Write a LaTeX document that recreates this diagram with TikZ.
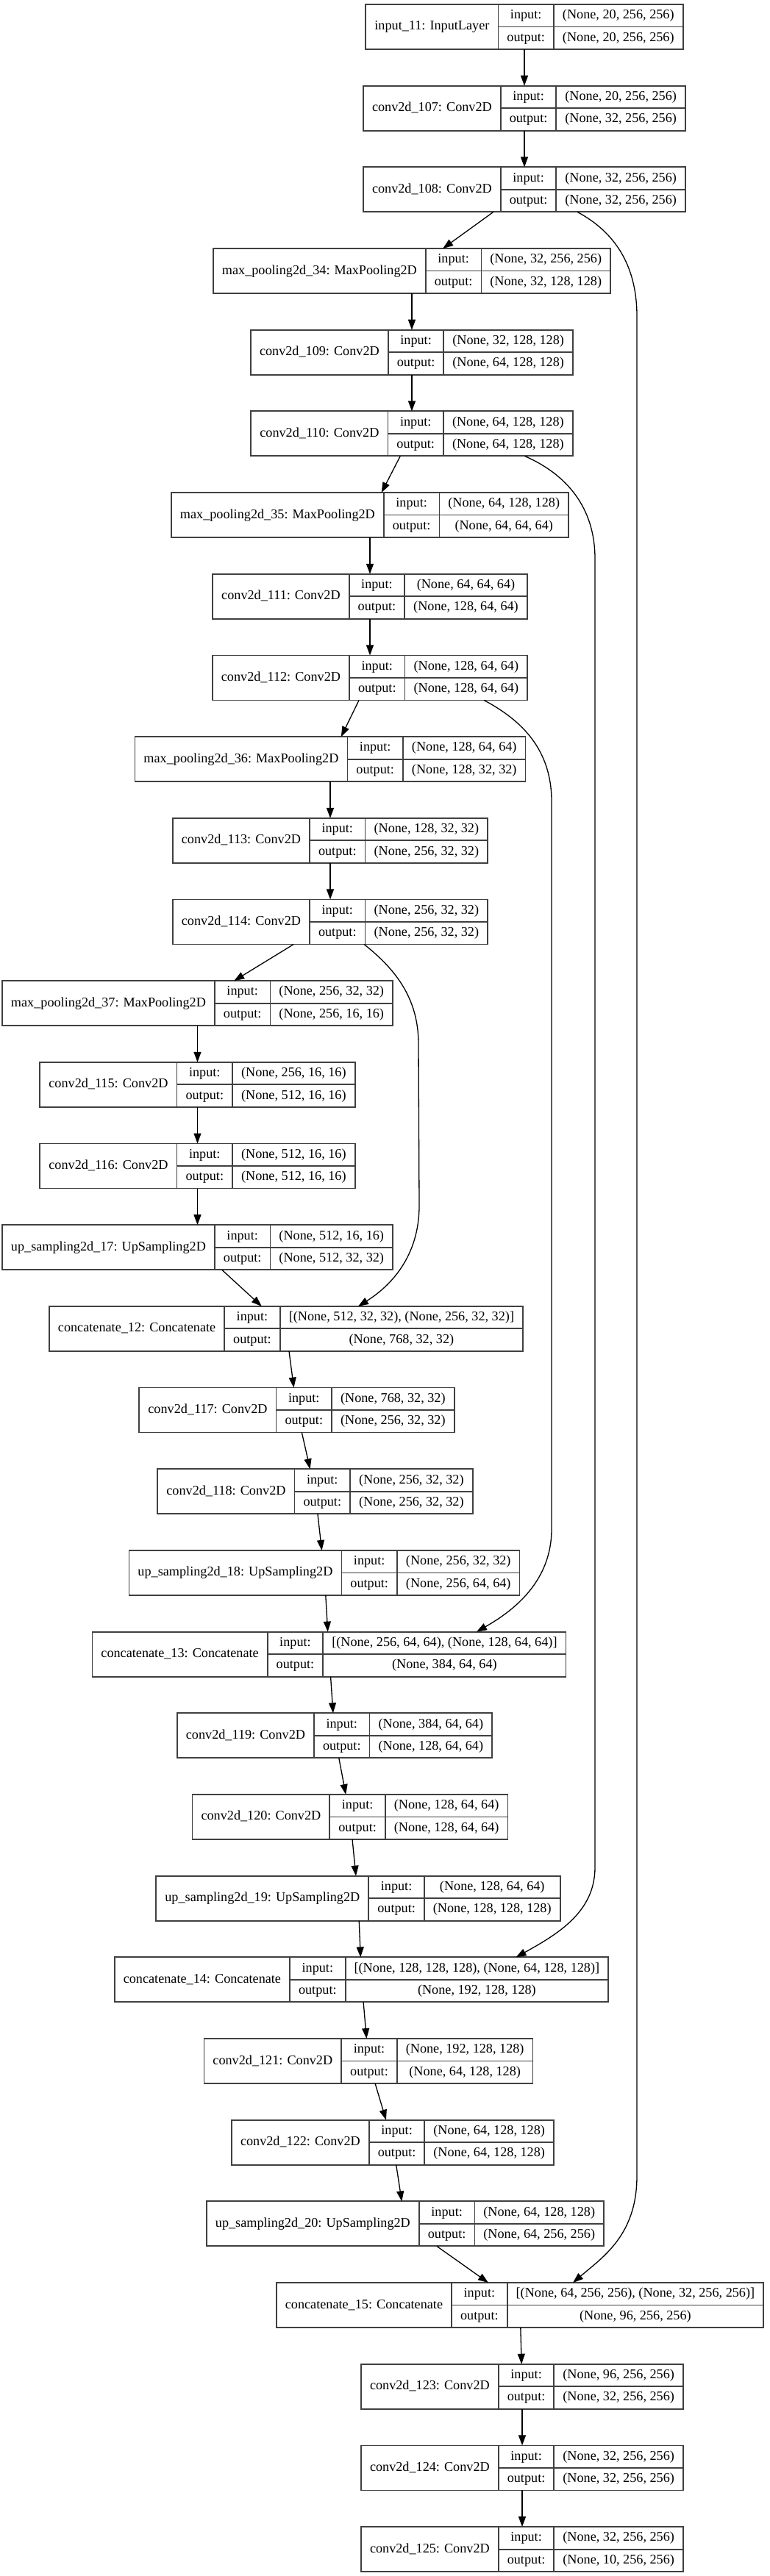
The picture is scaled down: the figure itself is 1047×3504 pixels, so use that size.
\documentclass[tikz,border=0pt]{standalone}
\usepackage{fontspec}
\setmainfont{Liberation Serif}
\usetikzlibrary{arrows.meta,calc}
\newcommand\lyr{\fontsize{9.1pt}{10pt}\selectfont}
\newlength\lenA \newlength\lenB \newlength\lenC \newlength\lenD
\newcommand\lyrmeasure[2]{\pgfinterruptpicture\settowidth{#1}{\lyr #2}\global#1=#1\relax\endpgfinterruptpicture}
\tikzset{
 layerbox/.style={draw=black!75, line width=0.9pt, fill=white, minimum height=30.5pt, inner sep=0pt, outer sep=0pt},
 divider/.style={draw=black!75, line width=0.9pt},
 cell/.style={font=\lyr, inner sep=0pt, text height=6.6pt, text depth=2.1pt},
 edge/.style={draw=black, line width=0.65pt, -{Triangle[length=7pt,width=5pt]}},
}
\newcommand\layer[6]{%
 \lyrmeasure\lenA{#4}\addtolength\lenA{12pt}%
 \lyrmeasure\lenB{output:}\addtolength\lenB{12pt}%
 \lyrmeasure\lenC{#5}\lyrmeasure\lenD{#6}%
 \ifdim\lenD>\lenC \lenC=\lenD\fi
 \addtolength\lenC{12pt}%
 \pgfmathsetlengthmacro\lyrW{\lenA+\lenB+\lenC}%
 \pgfmathsetlengthmacro\lyrXa{\lenA}%
 \pgfmathsetlengthmacro\lyrXb{\lenA+\lenB}%
 \pgfmathsetlengthmacro\lyrXl{0.5*\lenA}%
 \pgfmathsetlengthmacro\lyrXi{\lenA+0.5*\lenB}%
 \pgfmathsetlengthmacro\lyrXv{\lenA+\lenB+0.5*\lenC}%
 \node[layerbox, minimum width=\lyrW] (#1) at (#2,{36.5+110.68*#3}) {};
 \draw[divider] ([xshift=\lyrXa]#1.north west) -- ([xshift=\lyrXa]#1.south west);
 \draw[divider] ([xshift=\lyrXb]#1.north west) -- ([xshift=\lyrXb]#1.south west);
 \draw[divider] ([xshift=\lyrXa]#1.west) -- (#1.east);
 \node[cell] (#1-name) at ([xshift=\lyrXl]#1.west) {#4};
 \node[cell] (#1-ik) at ([xshift=\lyrXi,yshift=7.6pt]#1.west) {input:};
 \node[cell] (#1-ok) at ([xshift=\lyrXi,yshift=-7.6pt]#1.west) {output:};
 \node[cell] (#1-iv) at ([xshift=\lyrXv,yshift=7.6pt]#1.west) {#5};
 \node[cell] (#1-ov) at ([xshift=\lyrXv,yshift=-7.6pt]#1.west) {#6};
}
\begin{document}
\begin{tikzpicture}[x=0.5pt,y=-0.5pt]
\useasboundingbox[fill=white] (0,0) rectangle (1047,3504);
\layer{in11}{713}{0}{input\_11: InputLayer}{(None, 20, 256, 256)}{(None, 20, 256, 256)}
\layer{c107}{713}{1}{conv2d\_107: Conv2D}{(None, 20, 256, 256)}{(None, 32, 256, 256)}
\layer{c108}{713}{2}{conv2d\_108: Conv2D}{(None, 32, 256, 256)}{(None, 32, 256, 256)}
\layer{mp34}{560}{3}{max\_pooling2d\_34: MaxPooling2D}{(None, 32, 256, 256)}{(None, 32, 128, 128)}
\layer{c109}{560}{4}{conv2d\_109: Conv2D}{(None, 32, 128, 128)}{(None, 64, 128, 128)}
\layer{c110}{560}{5}{conv2d\_110: Conv2D}{(None, 64, 128, 128)}{(None, 64, 128, 128)}
\layer{mp35}{503}{6}{max\_pooling2d\_35: MaxPooling2D}{(None, 64, 128, 128)}{(None, 64, 64, 64)}
\layer{c111}{503}{7}{conv2d\_111: Conv2D}{(None, 64, 64, 64)}{(None, 128, 64, 64)}
\layer{c112}{503}{8}{conv2d\_112: Conv2D}{(None, 128, 64, 64)}{(None, 128, 64, 64)}
\layer{mp36}{449}{9}{max\_pooling2d\_36: MaxPooling2D}{(None, 128, 64, 64)}{(None, 128, 32, 32)}
\layer{c113}{449}{10}{conv2d\_113: Conv2D}{(None, 128, 32, 32)}{(None, 256, 32, 32)}
\layer{c114}{449}{11}{conv2d\_114: Conv2D}{(None, 256, 32, 32)}{(None, 256, 32, 32)}
\layer{mp37}{268.5}{12}{max\_pooling2d\_37: MaxPooling2D}{(None, 256, 32, 32)}{(None, 256, 16, 16)}
\layer{c115}{268.5}{13}{conv2d\_115: Conv2D}{(None, 256, 16, 16)}{(None, 512, 16, 16)}
\layer{c116}{268.5}{14}{conv2d\_116: Conv2D}{(None, 512, 16, 16)}{(None, 512, 16, 16)}
\layer{up17}{268.5}{15}{up\_sampling2d\_17: UpSampling2D}{(None, 512, 16, 16)}{(None, 512, 32, 32)}
\layer{cat12}{389}{16}{concatenate\_12: Concatenate}{[(None, 512, 32, 32), (None, 256, 32, 32)]}{(None, 768, 32, 32)}
\layer{c117}{403.5}{17}{conv2d\_117: Conv2D}{(None, 768, 32, 32)}{(None, 256, 32, 32)}
\layer{c118}{428.5}{18}{conv2d\_118: Conv2D}{(None, 256, 32, 32)}{(None, 256, 32, 32)}
\layer{up18}{441}{19}{up\_sampling2d\_18: UpSampling2D}{(None, 256, 32, 32)}{(None, 256, 64, 64)}
\layer{cat13}{447.5}{20}{concatenate\_13: Concatenate}{[(None, 256, 64, 64), (None, 128, 64, 64)]}{(None, 384, 64, 64)}
\layer{c119}{455}{21}{conv2d\_119: Conv2D}{(None, 384, 64, 64)}{(None, 128, 64, 64)}
\layer{c120}{476}{22}{conv2d\_120: Conv2D}{(None, 128, 64, 64)}{(None, 128, 64, 64)}
\layer{up19}{487}{23}{up\_sampling2d\_19: UpSampling2D}{(None, 128, 64, 64)}{(None, 128, 128, 128)}
\layer{cat14}{491.5}{24}{concatenate\_14: Concatenate}{[(None, 128, 128, 128), (None, 64, 128, 128)]}{(None, 192, 128, 128)}
\layer{c121}{501}{25}{conv2d\_121: Conv2D}{(None, 192, 128, 128)}{(None, 64, 128, 128)}
\layer{c122}{534}{26}{conv2d\_122: Conv2D}{(None, 64, 128, 128)}{(None, 64, 128, 128)}
\layer{up20}{551}{27}{up\_sampling2d\_20: UpSampling2D}{(None, 64, 128, 128)}{(None, 64, 256, 256)}
\layer{cat15}{707}{28}{concatenate\_15: Concatenate}{[(None, 64, 256, 256), (None, 32, 256, 256)]}{(None, 96, 256, 256)}
\layer{c123}{710}{29}{conv2d\_123: Conv2D}{(None, 96, 256, 256)}{(None, 32, 256, 256)}
\layer{c124}{710}{30}{conv2d\_124: Conv2D}{(None, 32, 256, 256)}{(None, 32, 256, 256)}
\layer{c125}{710}{31}{conv2d\_125: Conv2D}{(None, 32, 256, 256)}{(None, 10, 256, 256)}
% main chain
\foreach \a/\b in {in11/c107,c107/c108,c108/mp34,mp34/c109,c109/c110,c110/mp35,mp35/c111,c111/c112,c112/mp36,mp36/c113,c113/c114,c114/mp37,mp37/c115,c115/c116,c116/up17,up17/cat12,cat12/c117,c117/c118,c118/up18,up18/cat13,cat13/c119,c119/c120,c120/up19,up19/cat14,cat14/c121,c121/c122,c122/up20,up20/cat15,cat15/c123,c123/c124,c124/c125}
  \draw[edge] (\a) -- (\b);
% skip connections
\draw[edge] ($(c108.south)+(72,0)$) .. controls (835,315) and (866,360) .. (866,430) -- (866,2960) .. controls (866,3040) and (820,3070) .. ($(cat15.north)+(72,0)$);
\draw[edge] ($(c110.south)+(153.5,0)$) .. controls (770,645) and (809,690) .. (809,760) -- (809,2540) .. controls (809,2600) and (760,2630) .. ($(cat14.north)+(210,0)$);
\draw[edge] ($(c112.south)+(155,0)$) .. controls (710,980) and (750,1020) .. (750,1090) -- (750,2080) .. controls (750,2150) and (700,2190) .. ($(cat13.north)+(200.5,0)$);
\draw[edge] ($(c114.south)+(46,0)$) .. controls (540,1320) and (569,1360) .. (569,1420) -- (570,1640) .. controls (570,1710) and (530,1750) .. ($(cat12.north)+(98,0)$);
\end{tikzpicture}
\end{document}
